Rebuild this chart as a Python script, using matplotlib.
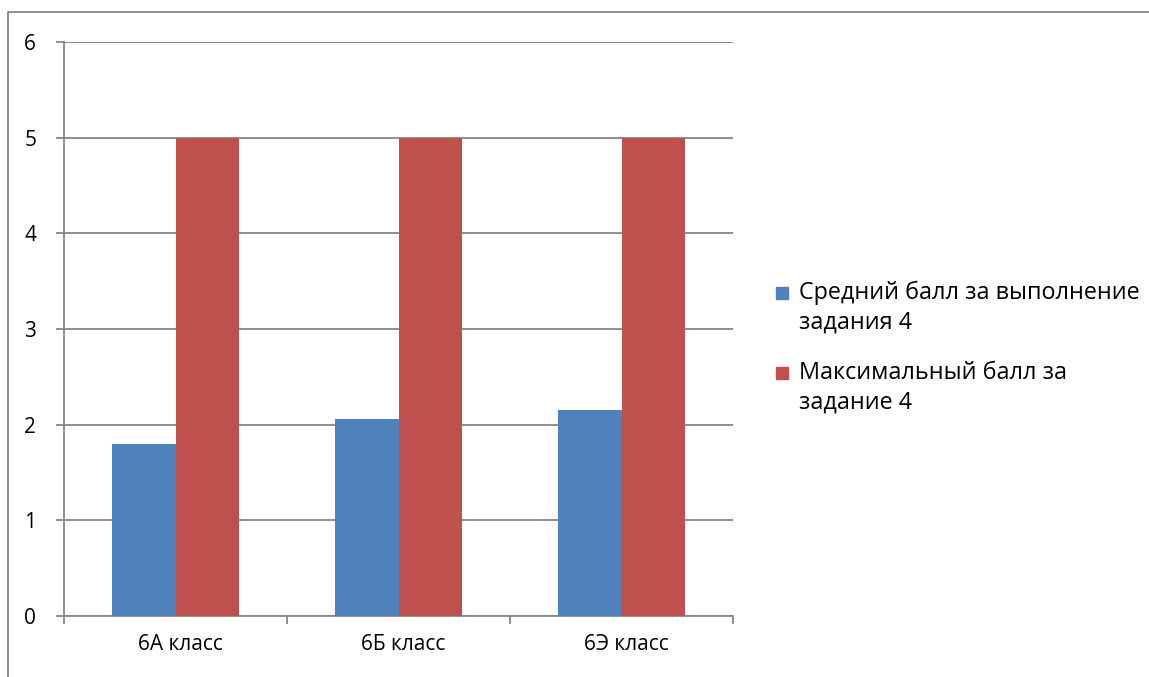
import numpy as np
import matplotlib.pyplot as plt
from matplotlib.patches import Rectangle
from matplotlib.lines import Line2D

plt.rcParams['font.family'] = ['Open Sans', 'DejaVu Sans']

categories = ["6А класс", "6Б класс", "6Э класс"]
avg_scores = [1.8, 2.06, 2.15]
max_scores = [5, 5, 5]
series_names = ["Средний балл за выполнение\nзадания 4",
                "Максимальный балл за\nзадание 4"]
colors = ["#4F81BD", "#C0504D"]
grid_color = "#868686"

fig = plt.figure(figsize=(11.49, 6.77), dpi=100)
ax = fig.add_axes([64 / 1149, 61 / 677, 669 / 1149, 574 / 677])

x = np.arange(len(categories))
w = 1 / 3.5
ax.bar(x - w / 2, avg_scores, w, color=colors[0], zorder=3)
ax.bar(x + w / 2, max_scores, w, color=colors[1], zorder=3)

ax.set_xlim(-0.5, len(categories) - 0.5)
ax.set_ylim(0, 6)
ax.set_yticks(range(7))
ax.yaxis.grid(True, color=grid_color, linewidth=1.3, zorder=0)

ax.set_xticks(x + 0.02)
ax.set_xticklabels(categories, fontsize=15)
ax.set_xticks(np.arange(len(categories) + 1) - 0.5, minor=True)
ax.tick_params(axis='x', which='major', length=0, pad=13)
ax.tick_params(axis='x', which='minor', length=6, color=grid_color, width=1.3)
ax.tick_params(axis='y', length=6, color=grid_color, width=1.3, labelsize=15, pad=14)

for s in ["top", "right"]:
    ax.spines[s].set_visible(False)
for s in ["left", "bottom"]:
    ax.spines[s].set_color(grid_color)
    ax.spines[s].set_linewidth(1.3)

# legend drawn by hand so the square sits on the first line
for i, (name, c) in enumerate(zip(series_names, colors)):
    ytop = 1 - (287 + i * 80) / 677
    fig.patches.append(Rectangle((776 / 1149, ytop - 12 / 677), 12 / 1149, 12 / 677,
                                 transform=fig.transFigure, color=c))
    fig.text(799 / 1149, ytop + 6 / 677, name, fontsize=16.8, va='top',
             linespacing=1.32)

# outer chart frame (only left and top edges are in view)
fy = 1 - 12 / 677
fx = 8 / 1149
fig.lines.append(Line2D([fx, fx, 1.01], [-0.01, fy, fy], transform=fig.transFigure,
                        color=grid_color, linewidth=1.3))

fig.savefig("out.png", dpi=100)
